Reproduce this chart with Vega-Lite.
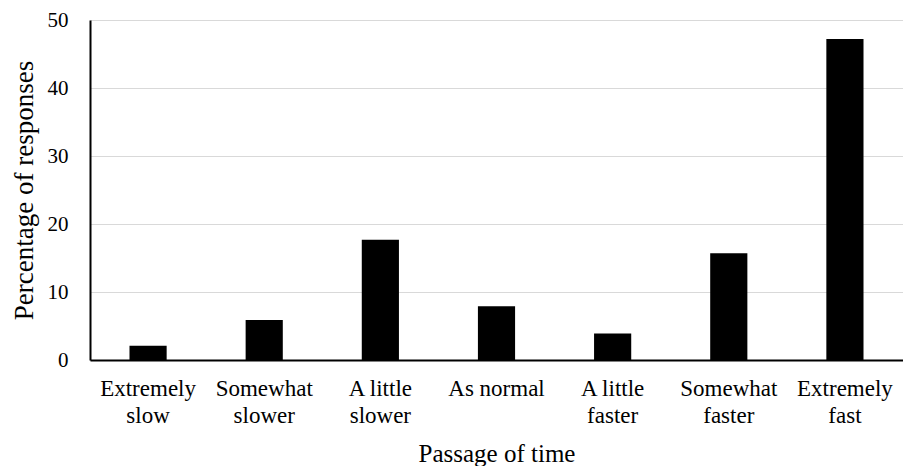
{
  "$schema": "https://vega.github.io/schema/vega-lite/v6.json",
  "autosize": "none",
  "width": 813,
  "height": 340,
  "padding": {"left": 90, "top": 20, "right": 0, "bottom": 106},
  "background": "white",
  "data": {
    "values": [
      {"time": "Extremely slow", "pct": 2.1},
      {"time": "Somewhat slower", "pct": 5.9},
      {"time": "A little slower", "pct": 17.7},
      {"time": "As normal", "pct": 7.9},
      {"time": "A little faster", "pct": 3.9},
      {"time": "Somewhat faster", "pct": 15.7},
      {"time": "Extremely fast", "pct": 47.2}
    ]
  },
  "mark": {"type": "bar", "color": "black"},
  "encoding": {
    "x": {
      "field": "time",
      "type": "nominal",
      "sort": null,
      "scale": {"paddingInner": 0.68, "paddingOuter": 0.34},
      "axis": {
        "title": "Passage of time",
        "labelAngle": 0,
        "labelExpr": "datum.value == 'As normal' ? datum.value : [slice(datum.value, 0, lastindexof(datum.value, ' ')), slice(datum.value, lastindexof(datum.value, ' ') + 1)]",
        "labelFontSize": 23,
        "labelColor": "black",
        "labelLineHeight": 27,
        "labelBaseline": "top",
        "labelPadding": 17,
        "ticks": false,
        "domainColor": "black",
        "domainWidth": 2,
        "titleFontSize": 25,
        "titleFontWeight": "normal",
        "titleColor": "black",
        "titlePadding": 14
      }
    },
    "y": {
      "field": "pct",
      "type": "quantitative",
      "scale": {"domain": [0, 50]},
      "axis": {
        "title": "Percentage of responses",
        "values": [0, 10, 20, 30, 40, 50],
        "labelFontSize": 21,
        "labelColor": "black",
        "labelPadding": 22,
        "ticks": false,
        "domainColor": "black",
        "domainWidth": 2,
        "gridColor": "#d9d9d9",
        "gridWidth": 1,
        "titleFontSize": 27,
        "titleFontWeight": "normal",
        "titleColor": "black",
        "titlePadding": 9
      }
    }
  },
  "config": {
    "font": "Liberation Serif",
    "axis": {"labelFont": "Liberation Serif", "titleFont": "Liberation Serif"},
    "view": {"stroke": null}
  }
}
